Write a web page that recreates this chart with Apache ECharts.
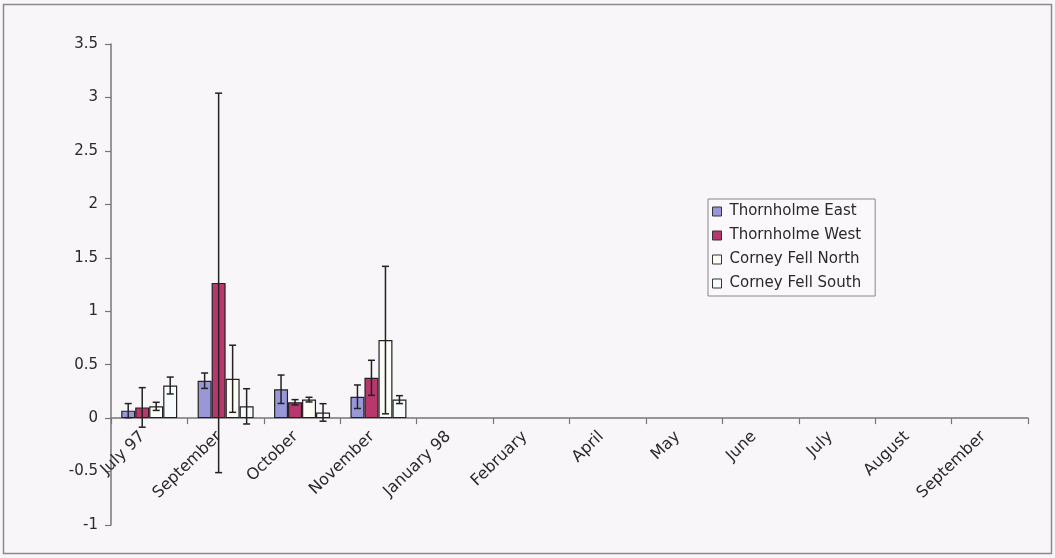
<!DOCTYPE html>
<html>
<head>
<meta charset="utf-8">
<script src="https://cdn.jsdelivr.net/npm/echarts@6/dist/echarts.min.js"></script>
<style>
html,body{margin:0;padding:0;background:#f8f6f8;}
#chart{width:1055px;height:558px;}
</style>
</head>
<body>
<div id="chart"></div>
<script>
var categories = ['July 97','September','October','November','January 98','February','April','May','June','July','August','September'];
var seriesNames = ['Thornholme East','Thornholme West','Corney Fell North','Corney Fell South'];
var thornholmeEast = [0.07, 0.35, 0.27, 0.20];
var thornholmeEastErr = [0.066, 0.072, 0.133, 0.11];
var thornholmeWest = [0.10, 1.265, 0.148, 0.377];
var thornholmeWestErr = [0.185, 1.775, 0.025, 0.164];
var corneyFellNorth = [0.11, 0.368, 0.173, 0.73];
var corneyFellNorthErr = [0.038, 0.314, 0.022, 0.69];
var corneyFellSouth = [0.305, 0.11, 0.053, 0.173];
var corneyFellSouthErr = [0.079, 0.165, 0.082, 0.037];
var yTicks = {min: -1, max: 3.5, interval: 0.5};

var values = [thornholmeEast, thornholmeWest, corneyFellNorth, corneyFellSouth];
var errors = [thornholmeEastErr, thornholmeWestErr, corneyFellNorthErr, corneyFellSouthErr];
var colors = ['#9a97d9', '#b8386e', '#fdfdf8', '#f7fbfd'];
var barW = 14;

var font = 'DejaVu Sans, Liberation Sans, Arial, sans-serif';
var series = [];
values.forEach(function (vals, si) {
  series.push({
    name: seriesNames[si],
    type: 'bar',
    data: vals,
    barWidth: barW,
    barGap: '0%',
    itemStyle: {color: colors[si], borderColor: '#222', borderWidth: 1.2}
  });
});
values.forEach(function (vals, si) {
  var offset = (si - 1.5) * barW;
  series.push({
    name: seriesNames[si] + ' error',
    type: 'custom',
    silent: true,
    z: 5,
    data: vals.map(function (v, i) { return [i, v, errors[si][i]]; }),
    encode: {x: 0, y: 1},
    renderItem: function (params, api) {
      var i = api.value(0), v = api.value(1), e = api.value(2);
      var c = api.coord([i, v]);
      var x = c[0] + offset;
      var yt = api.coord([i, v + e])[1];
      var yb = api.coord([i, v - e])[1];
      var cap = 3.5;
      var st = {stroke: '#222', lineWidth: 1.5};
      return {
        type: 'group',
        children: [
          {type: 'line', shape: {x1: x, y1: yt, x2: x, y2: yb}, style: st},
          {type: 'line', shape: {x1: x - cap, y1: yt, x2: x + cap, y2: yt}, style: st},
          {type: 'line', shape: {x1: x - cap, y1: yb, x2: x + cap, y2: yb}, style: st}
        ]
      };
    }
  });
});

var chart = echarts.init(document.getElementById('chart'), null, {renderer: 'canvas'});
chart.setOption({
  backgroundColor: '#f8f6f8',
  animation: false,
  textStyle: {fontFamily: font},
  graphic: [{
    type: 'rect', shape: {x: 3.5, y: 4.5, width: 1048, height: 549},
    style: {fill: 'none', stroke: '#8a8a8a', lineWidth: 1.5}, silent: true
  }],
  grid: {left: 111, right: 27, top: 44, bottom: 33, outerBoundsMode: 'none'},
  legend: {
    orient: 'vertical',
    left: 708, top: 199,
    data: seriesNames,
    itemWidth: 9, itemHeight: 9, itemGap: 9,
    padding: [5, 14, 5, 4],
    borderColor: '#888', borderWidth: 1,
    backgroundColor: '#faf8fa',
    icon: 'rect',
    itemStyle: {borderColor: '#333', borderWidth: 1},
    textStyle: {fontFamily: font, fontSize: 15, color: '#2a2a2a', padding: [0, 0, 0, 3]}
  },
  xAxis: [{
    type: 'category',
    data: categories,
    axisLine: {onZero: true, lineStyle: {color: '#777', width: 1.5}},
    axisTick: {show: true, interval: 0, length: 6, lineStyle: {color: '#777', width: 1.2}},
    axisLabel: {show: false},
    splitLine: {show: false}
  }, {
    type: 'category',
    position: 'bottom',
    offset: -107,
    data: categories,
    axisLine: {show: false},
    axisTick: {show: false},
    axisLabel: {rotate: 44, margin: 10, fontSize: 16, color: '#2a2a2a', fontFamily: font, interval: 0, padding: [0, 9, 0, 0]},
    splitLine: {show: false}
  }],
  yAxis: {
    type: 'value',
    min: yTicks.min, max: yTicks.max, interval: yTicks.interval,
    axisLine: {show: true, lineStyle: {color: '#777', width: 1.5}},
    axisTick: {show: true, length: 6, lineStyle: {color: '#777', width: 1.2}},
    axisLabel: {margin: 13, fontSize: 15, color: '#2a2a2a', fontFamily: font},
    splitLine: {show: false}
  },
  series: series
});
</script>
</body>
</html>
